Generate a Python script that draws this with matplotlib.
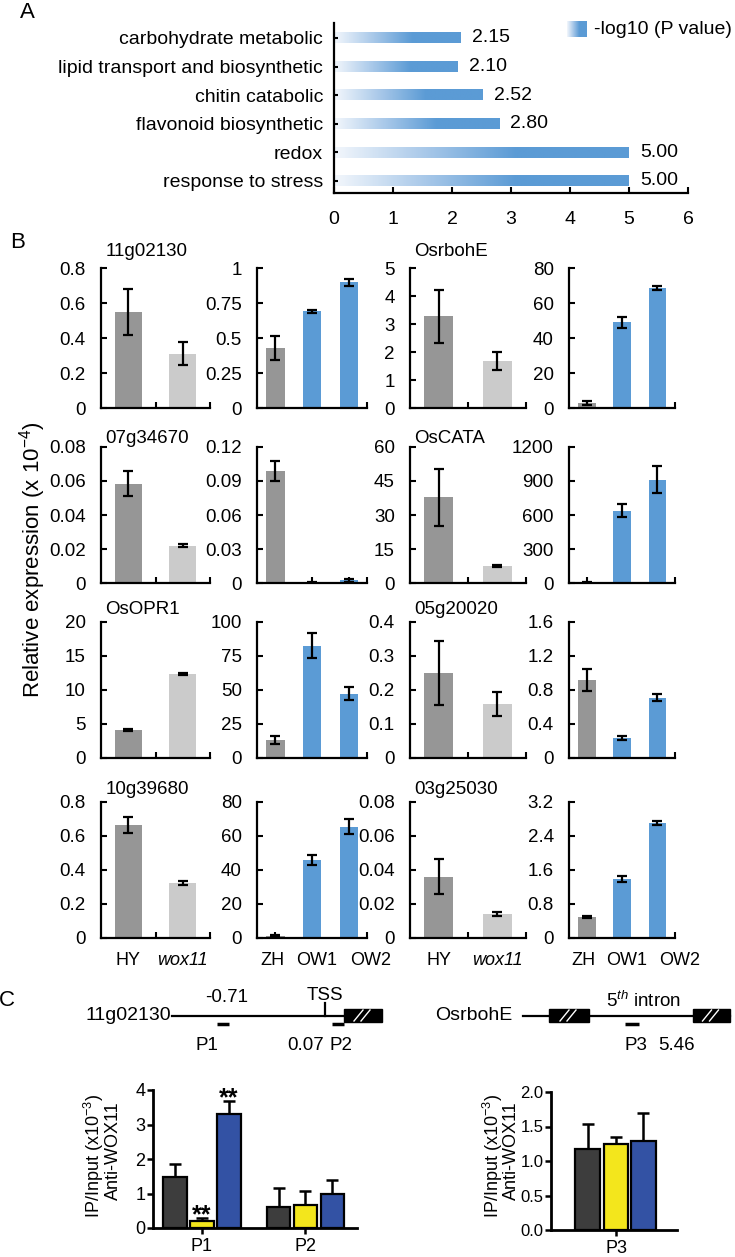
import matplotlib
matplotlib.use("Agg")
import matplotlib.pyplot as plt
import matplotlib.transforms as mtransforms
import numpy as np
from matplotlib.colors import LinearSegmentedColormap
from matplotlib.patches import Rectangle

plt.rcParams["font.family"] = ["Liberation Sans", "DejaVu Sans"]
plt.rcParams["mathtext.fontset"] = "custom"
plt.rcParams["mathtext.rm"] = "Liberation Sans"
plt.rcParams["mathtext.it"] = "Liberation Sans:italic"
plt.rcParams["mathtext.bf"] = "Liberation Sans:bold"

W, H = 735, 1257

# ---- panel A: GO enrichment ----
go_terms = ["response to stress", "redox", "flavonoid biosynthetic",
            "chitin catabolic", "lipid transport and biosynthetic",
            "carbohydrate metabolic"]
go_logp = [5.00, 5.00, 2.80, 2.52, 2.10, 2.15]

# ---- panel B: qRT-PCR (row-major, two genes per row) ----
genes = ["11g02130", "OsrbohE", "07g34670", "OsCATA",
         "OsOPR1", "05g20020", "10g39680", "03g25030"]
mut_labels = ["HY", "wox11"]
ox_labels = ["ZH", "OW1", "OW2"]
mut_mean = [[0.55, 0.31], [3.27, 1.68], [0.0585, 0.022], [37.8, 7.5],
            [4.15, 12.35], [0.25, 0.159], [0.665, 0.325], [0.036, 0.014]]
mut_err = [[0.13, 0.065], [0.94, 0.33], [0.0073, 0.0009], [12.6, 0.6],
           [0.15, 0.12], [0.093, 0.034], [0.048, 0.012], [0.0102, 0.0012]]
mut_ymax = [0.8, 5, 0.08, 60, 20, 0.4, 0.8, 0.08]
mut_ystep = [0.2, 1, 0.02, 15, 5, 0.1, 0.2, 0.02]
ox_mean = [[0.43, 0.69, 0.90], [3, 49, 68.5], [0.099, 0.0008, 0.0024],
           [4, 638, 913], [13, 82.7, 47.4], [0.917, 0.237, 0.708],
           [1, 45.9, 65.5], [0.50, 1.395, 2.71]]
ox_err = [[0.087, 0.012, 0.025], [1.2, 3.2, 1.3], [0.0088, 0.0005, 0.0015],
          [3, 58, 116], [3, 9.4, 4.8], [0.133, 0.02, 0.04],
          [0.5, 2.8, 4.3], [0.02, 0.07, 0.04]]
ox_ymax = [1, 80, 0.12, 1200, 100, 1.6, 80, 3.2]
ox_ystep = [0.25, 20, 0.03, 300, 25, 0.4, 20, 0.8]

# ---- panel C: ChIP ----
chip_sites = ["P1", "P2"]
chip_mean = [[1.48, 0.19, 3.29], [0.61, 0.68, 0.98]]
chip_err = [[0.37, 0.10, 0.39], [0.54, 0.39, 0.41]]
chip_sig = [["", "**", "**"], ["", "", ""]]
chip3_sites = ["P3"]
chip3_mean = [1.17, 1.25, 1.29]
chip3_err = [0.37, 0.10, 0.41]

GREY_D, GREY_L, BLUE = "#969696", "#cbcbcb", "#5b9bd5"
C_DARK, C_YEL, C_BLUE = "#3d3d3d", "#f3e61c", "#3352a4"


def px_axes(fig, left, top, right, bottom):
    return fig.add_axes([left / W, 1 - bottom / H, (right - left) / W, (bottom - top) / H])


def fmt(v):
    return f"{v:g}"


fig = plt.figure(figsize=(W / 100, H / 100), dpi=100)

# ================= A =================
cmap = LinearSegmentedColormap.from_list("g", ["#f3f7fc", "#a8c8e9", BLUE])
grad = np.clip(np.linspace(0, 1, 256) / 0.62, 0, 1)[None, :]
axA = px_axes(fig, 334, 23, 688, 193)
ypos = np.arange(len(go_terms))
bh = 0.37
for y, v in zip(ypos, go_logp):
    axA.imshow(grad, extent=[0, v, y - bh / 2, y + bh / 2], cmap=cmap,
               vmin=0, vmax=1, aspect="auto", interpolation="bilinear")
    axA.annotate(f"{v:.2f}", xy=(v, y), xytext=(8, 0), textcoords="offset points",
                 ha="left", va="center", fontsize=14)
axA.set_xlim(0, 6)
axA.set_ylim(-0.42, 5.52)
axA.set_yticks(ypos, go_terms)
axA.set_xticks(range(7))
for s in ["top", "right"]:
    axA.spines[s].set_visible(False)
for s in ["left", "bottom"]:
    axA.spines[s].set_linewidth(1.6)
axA.tick_params(axis="y", direction="in", length=3, width=1.5, pad=8, labelsize=14)
axA.tick_params(axis="x", direction="in", length=4, width=1.5, pad=13, labelsize=14)

axLeg = px_axes(fig, 567, 21, 586, 37)
axLeg.imshow(grad, cmap=cmap, vmin=0, vmax=1, aspect="auto")
axLeg.axis("off")
fig.text(594 / W, 1 - 29 / H, "-log10 (P value)", ha="left", va="center", fontsize=14)

fig.text(27 / W, 1 - 13 / H, "A", ha="center", va="center", fontsize=16)
fig.text(18 / W, 1 - 242 / H, "B", ha="center", va="center", fontsize=16)
fig.text(7 / W, 1 - 1000 / H, "C", ha="center", va="center", fontsize=16)

# ================= B =================
col_px = [(101, 210), (257, 367), (410, 526), (569, 675)]
row_px = [(268, 408), (447, 583), (622, 758), (802, 938)]
title_gap = [12, 6, 9, 9]  # points above the axes top, per row
ox_label_shift = [-3, 5, 22]  # px, the ZH/OW labels sit spread out


def expr_panel(ax, means, errs, colors, ymax, ystep, labels, show_labels):
    n = len(means)
    x = np.arange(n) + 0.5
    ax.bar(x, means, width=0.5, color=colors, edgecolor="none", zorder=2)
    ax.errorbar(x, means, yerr=errs, fmt="none", ecolor="black", elinewidth=1.6,
                capsize=3.3, capthick=1.6, zorder=3)
    ax.set_xlim(0, n)
    ax.set_ylim(0, ymax)
    ticks = np.arange(0, ymax + ystep / 2, ystep)
    ax.set_yticks(ticks, [fmt(round(t, 4)) for t in ticks])
    ax.set_xticks(x, labels if show_labels else [""] * n)
    ax.set_xticks(range(1, n + 1) if n == 2 else [n], minor=True)
    for s in ["top", "right"]:
        ax.spines[s].set_visible(False)
    for s in ["left", "bottom"]:
        ax.spines[s].set_linewidth(1.6)
    ax.tick_params(axis="both", which="both", direction="in", length=4, width=1.5)
    ax.tick_params(axis="y", pad=11, labelsize=13.5)
    ax.tick_params(axis="x", pad=10, labelsize=13)


for g, name in enumerate(genes):
    r, pair = divmod(g, 2)
    top, bot = row_px[r]
    last = r == len(row_px) - 1
    l, rr = col_px[2 * pair]
    axm = px_axes(fig, l, top, rr, bot)
    expr_panel(axm, mut_mean[g], mut_err[g], [GREY_D, GREY_L], mut_ymax[g],
               mut_ystep[g], mut_labels, last)
    if last:
        axm.get_xticklabels()[1].set_style("italic")
    axm.annotate(name, xy=(0, 1), xycoords="axes fraction", xytext=(3, title_gap[r]),
                 textcoords="offset points", ha="left", va="center", fontsize=13.5)
    l, rr = col_px[2 * pair + 1]
    axo = px_axes(fig, l, top, rr, bot)
    expr_panel(axo, ox_mean[g], ox_err[g], [GREY_D, BLUE, BLUE], ox_ymax[g],
               ox_ystep[g], ox_labels, last)
    if last:
        for lab, dx in zip(axo.get_xticklabels(), ox_label_shift):
            shift = mtransforms.ScaledTranslation(dx / 100, 0, fig.dpi_scale_trans)
            lab.set_transform(lab.get_transform() + shift)

fig.text(33 / W, 1 - 560 / H, r"Relative expression (x 10$^{-4}$)", rotation=90,
         ha="center", va="center", fontsize=16)

# ================= C: gene schematics =================
axS = fig.add_axes([0, 1 - 1060 / H, 1, 75 / H])
axS.set_xlim(0, W)
axS.set_ylim(1060, 985)
axS.axis("off")
line_y = 1016
# 11g02130
axS.plot([172, 344], [line_y, line_y], color="black", lw=1.6)
axS.plot([325, 325], [1003, line_y], color="black", lw=1.6)
# OsrbohE
axS.plot([523, 730], [line_y, line_y], color="black", lw=1.6)
for x0, x1 in [(344, 382), (549, 589), (693, 730)]:
    axS.add_patch(Rectangle((x0, 1009), x1 - x0, 13, color="black"))
    xm = (x0 + x1) / 2
    for dx in (-4, 3):
        axS.plot([xm + dx - 5, xm + dx + 4], [1021, 1010], color="white", lw=1)
for x0, x1 in [(217, 229), (332, 344), (625, 639)]:
    axS.plot([x0, x1], [1024, 1024], color="black", lw=2.5, solid_capstyle="butt")
axS.text(171, line_y, "11g02130", ha="right", va="center", fontsize=14)
axS.text(325, 995, "TSS", ha="center", va="center", fontsize=13.5)
axS.text(227, 998, "-0.71", ha="center", va="center", fontsize=13.5)
axS.text(207, 1045, "P1", ha="center", va="center", fontsize=13.5)
axS.text(306, 1045, "0.07", ha="center", va="center", fontsize=13.5)
axS.text(341, 1046, "P2", ha="center", va="center", fontsize=13.5)
axS.text(512, line_y, "OsrbohE", ha="right", va="center", fontsize=14)
axS.text(643, 1001, r"$\mathit{5^{th}}$ intron", ha="center", va="center", fontsize=13.5)
axS.text(636, 1045, "P3", ha="center", va="center", fontsize=13.5)
axS.text(677, 1045, "5.46", ha="center", va="center", fontsize=13.5)

# ================= C: ChIP bars =================
chip_colors = [C_DARK, C_YEL, C_BLUE]


def prism_axes(ax, ylim, yticks, ylabels):
    ax.set_ylim(*ylim)
    ax.set_yticks(yticks, ylabels)
    for s in ["top", "right"]:
        ax.spines[s].set_visible(False)
    for s in ["left", "bottom"]:
        ax.spines[s].set_linewidth(2)
    ax.tick_params(axis="both", direction="out", length=4, width=1.8, labelsize=13)
    ax.tick_params(axis="y", pad=1.5)
    ax.tick_params(axis="x", pad=3)


axC1 = px_axes(fig, 153, 1090, 357, 1228)
offs = np.array([-0.26, 0, 0.26])
for gi, site in enumerate(chip_sites):
    xs = gi + offs
    axC1.bar(xs, chip_mean[gi], width=0.225, color=chip_colors, edgecolor="black",
             linewidth=1.6, zorder=2)
    axC1.errorbar(xs, chip_mean[gi], yerr=[np.zeros(3), chip_err[gi]], fmt="none",
                  ecolor="black", elinewidth=1.8, capsize=4, capthick=1.8, zorder=1)
    for xv, m, e, s in zip(xs, chip_mean[gi], chip_err[gi], chip_sig[gi]):
        if s:
            axC1.annotate(s, xy=(xv, m + e), xytext=(0, -3), textcoords="offset points",
                          ha="center", va="baseline", fontsize=18, fontweight="bold")
axC1.set_xlim(-0.473, 1.498)
axC1.set_xticks(range(len(chip_sites)), chip_sites)
prism_axes(axC1, (0, 4), range(5), [str(v) for v in range(5)])

axC2 = px_axes(fig, 551, 1092, 677, 1230)
xs = np.array([0.0]) + np.array([-0.275, 0, 0.265])
axC2.bar(xs, chip3_mean, width=0.235, color=chip_colors, edgecolor="black",
         linewidth=1.6, zorder=2)
axC2.errorbar(xs, chip3_mean, yerr=[np.zeros(3), chip3_err], fmt="none",
              ecolor="black", elinewidth=1.8, capsize=4, capthick=1.8, zorder=1)
axC2.set_xlim(-0.628, 0.589)
axC2.set_xticks([0], chip3_sites)
yt = np.arange(0, 2.01, 0.5)
prism_axes(axC2, (0, 2), yt, [f"{v:.1f}" for v in yt])
axC2.tick_params(axis="y", labelsize=12)

for xa, xb in [(94, 113), (493, 511)]:
    fig.text(xa / W, 1 - 1156 / H, r"IP/Input (x10$^{-3}$)", rotation=90,
             ha="center", va="center", fontsize=13)
    fig.text(xb / W, 1 - 1151 / H, "Anti-WOX11", rotation=90,
             ha="center", va="center", fontsize=13)

fig.savefig("out.png", dpi=100)
plt.close(fig)
